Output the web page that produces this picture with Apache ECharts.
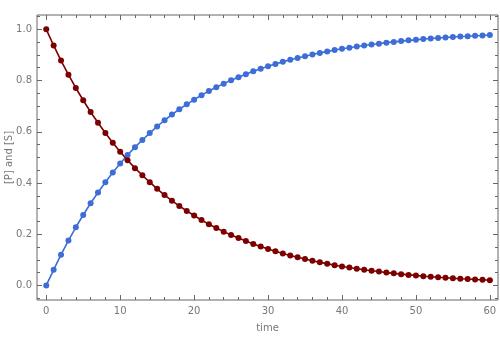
<!DOCTYPE html>
<html>
<head>
<meta charset="utf-8">
<script src="https://cdn.jsdelivr.net/npm/echarts@6/dist/echarts.min.js"></script>
<style>html,body{margin:0;padding:0;background:#fff}#c{width:500px;height:350px}</style>
</head>
<body>
<div id="c"></div>
<script>
const times = [0,1,2,3,4,5,6,7,8,9,10,11,12,13,14,15,16,17,18,19,20,21,22,23,24,25,26,27,28,29,30,31,32,33,34,35,36,37,38,39,40,41,42,43,44,45,46,47,48,49,50,51,52,53,54,55,56,57,58,59,60];
const substrateS = [1.000,0.937,0.878,0.823,0.771,0.723,0.677,0.635,0.595,0.557,0.522,0.489,0.458,0.430,0.403,0.377,0.353,0.331,0.310,0.291,0.273,0.255,0.239,0.224,0.210,0.197,0.185,0.173,0.162,0.152,0.142,0.133,0.125,0.117,0.110,0.103,0.096,0.090,0.085,0.079,0.074,0.070,0.065,0.061,0.057,0.054,0.050,0.047,0.044,0.041,0.039,0.036,0.034,0.032,0.030,0.028,0.026,0.025,0.023,0.022,0.020];
const productP = [0.000,0.061,0.120,0.175,0.227,0.275,0.321,0.363,0.403,0.441,0.476,0.509,0.540,0.568,0.595,0.621,0.645,0.667,0.688,0.707,0.725,0.743,0.759,0.774,0.788,0.801,0.813,0.825,0.836,0.846,0.856,0.865,0.873,0.881,0.888,0.895,0.902,0.908,0.913,0.919,0.924,0.928,0.933,0.937,0.941,0.944,0.948,0.951,0.954,0.957,0.959,0.962,0.964,0.966,0.968,0.970,0.972,0.973,0.975,0.976,0.978];
const xMajor = [0,10,20,30,40,50,60];
const xMinor = [2,4,6,8,12,14,16,18,22,24,26,28,32,34,36,38,42,44,46,48,52,54,56,58];
const yMajor = [0,0.2,0.4,0.6,0.8,1.0];
const yMinor = [-0.05,0.05,0.1,0.15,0.25,0.3,0.35,0.45,0.5,0.55,0.65,0.7,0.75,0.85,0.9,0.95,1.05];

const XMIN = -1.25, XMAX = 61.1, YMIN = -0.057, YMAX = 1.056;
const frameColor = '#666';
const labelColor = '#777';
const font = 'DejaVu Sans';

function xAx(pos, vals, len, labels, name) {
  return {
    type: 'value', position: pos, min: XMIN, max: XMAX,
    name: name || '', nameLocation: 'middle', nameGap: 23, nameMoveOverlap: false,
    nameTextStyle: {color: labelColor, fontFamily: font, fontSize: 10},
    axisLine: {show: false, onZero: false},
    splitLine: {show: false},
    axisTick: {show: true, inside: true, length: len, customValues: vals, lineStyle: {color: frameColor, width: 1}},
    axisLabel: labels ? {show: true, customValues: vals, color: labelColor, fontFamily: font, fontSize: 10, margin: 6, formatter: v => String(Math.round(v))} : {show: false}
  };
}
function yAx(pos, vals, len, labels, name) {
  return {
    type: 'value', position: pos, min: YMIN, max: YMAX,
    name: name || '', nameLocation: 'middle', nameGap: 23, nameMoveOverlap: false,
    nameTextStyle: {color: labelColor, fontFamily: font, fontSize: 10},
    axisLine: {show: false, onZero: false},
    splitLine: {show: false},
    axisTick: {show: true, inside: true, length: len, customValues: vals, lineStyle: {color: frameColor, width: 1}},
    axisLabel: labels ? {show: true, customValues: vals, color: labelColor, fontFamily: font, fontSize: 10, margin: 5, formatter: v => v.toFixed(1)} : {show: false}
  };
}

const chart = echarts.init(document.getElementById('c'), null, {renderer: 'canvas'});
chart.setOption({
  animation: false,
  backgroundColor: '#fff',
  grid: {left: 37, right: 2, top: 15, bottom: 50, outerBoundsMode: 'none', show: true, borderColor: frameColor, borderWidth: 1, backgroundColor: 'transparent'},
  xAxis: [
    xAx('bottom', xMajor, 5, true, 'time'),
    xAx('bottom', xMinor, 3, false),
    xAx('top', xMajor, 5, false),
    xAx('top', xMinor, 3, false)
  ],
  yAxis: [
    yAx('left', yMajor, 5, true, '[P] and [S]'),
    yAx('left', yMinor, 3, false),
    yAx('right', yMajor, 5, false),
    yAx('right', yMinor, 3, false)
  ],
  series: [
    {
      type: 'line', name: '[P]', xAxisIndex: 0, yAxisIndex: 0,
      data: times.map((t, i) => [t, productP[i]]),
      symbol: 'circle', symbolSize: 6,
      lineStyle: {color: '#3d6dd6', width: 1.6},
      itemStyle: {color: '#3d6dd6'}
    },
    {
      type: 'line', name: '[S]', xAxisIndex: 0, yAxisIndex: 0,
      data: times.map((t, i) => [t, substrateS[i]]),
      symbol: 'circle', symbolSize: 6,
      lineStyle: {color: '#7d0000', width: 1.6},
      itemStyle: {color: '#7d0000'}
    }
  ]
});
</script>
</body>
</html>
